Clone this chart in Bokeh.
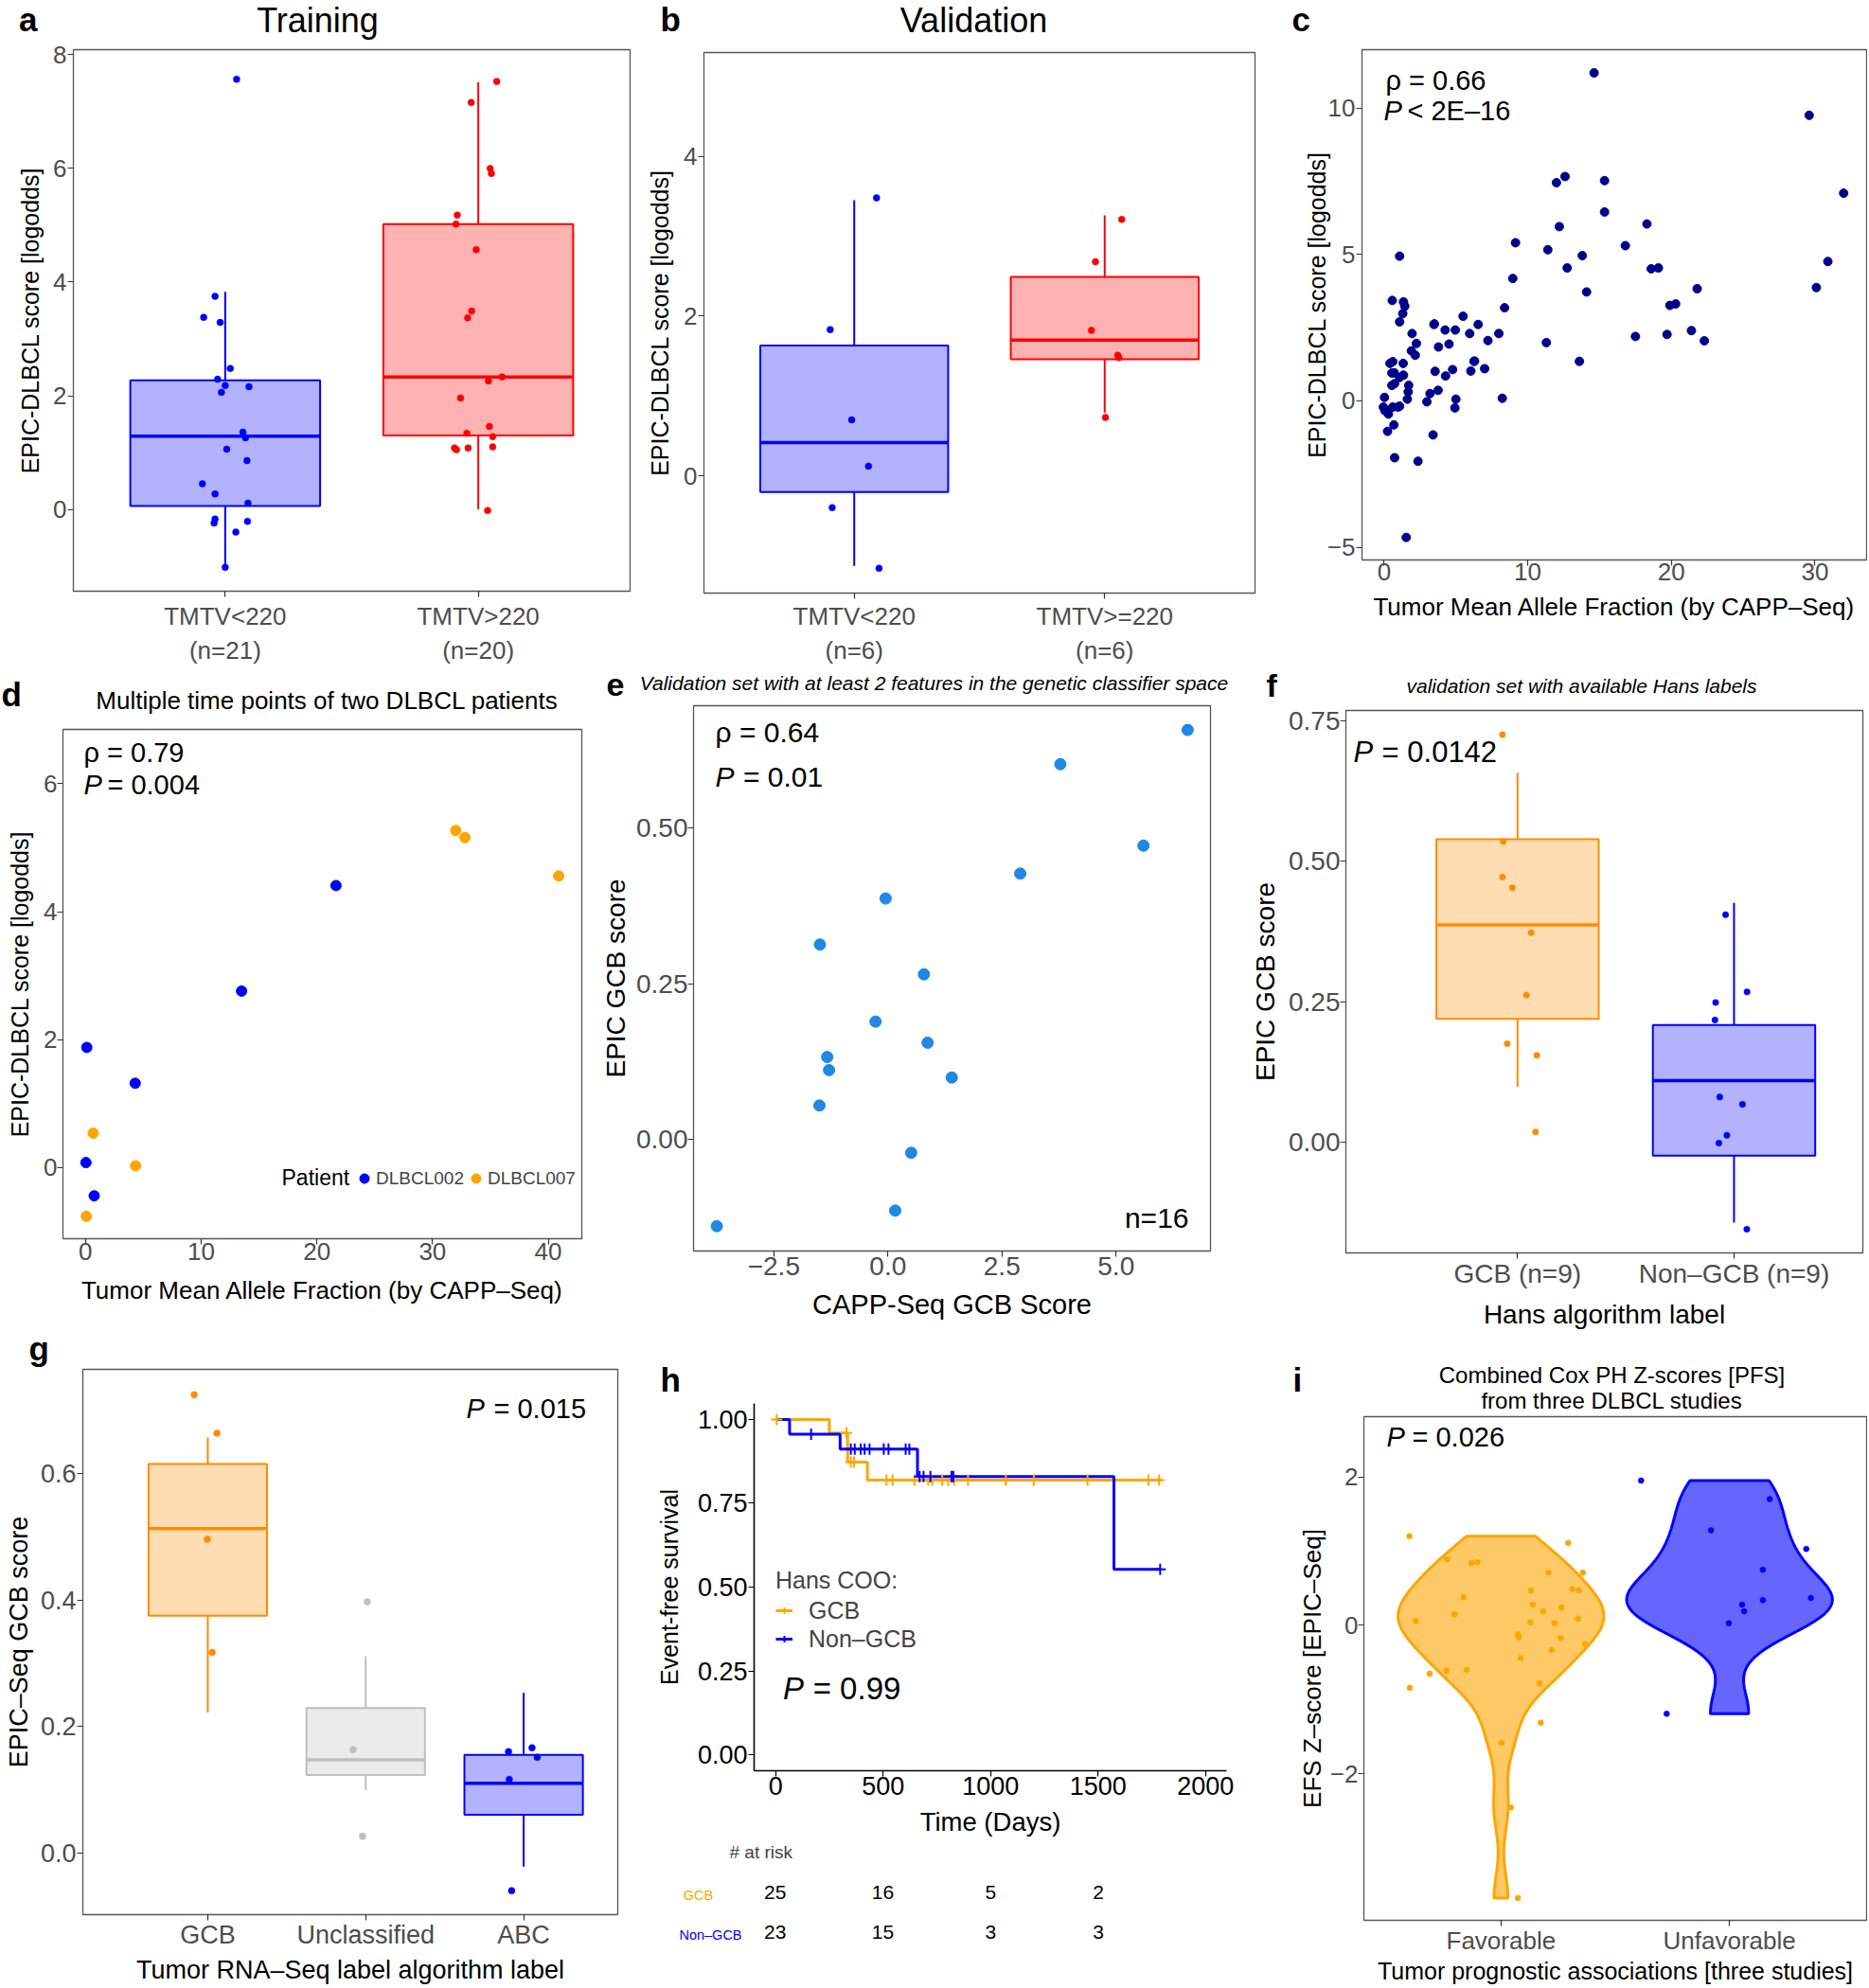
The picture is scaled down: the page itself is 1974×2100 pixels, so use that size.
import numpy as np
from bokeh.plotting import figure
from bokeh.models import Label, FixedTicker, Legend, LegendItem, Range1d, ColumnDataSource
from bokeh.layouts import row, column
from bokeh.embed import file_html
from bokeh.resources import INLINE

FONT = "Liberation Sans"
TXT_GREY = "#4D4D4D"
FRAME_COL = "#555555"
BLUE = "#0000FF"; RED = "#FF0000"; DORANGE = "#FF8C00"; ORANGE = "#FFA500"
GREY = "#BEBEBE"; NAVY = "#00008B"; DODGER = "#1E88E5"
BASE_SHIFT = 0.34  # text placed by baseline: compensate renderer offset (fraction of font size)
ROW1_END = 704

# ---------------- data ----------------
# (a) Training
A_LABELS = ["TMTV<220\n(n=21)", "TMTV>220\n(n=20)"]
A_YTICKS = [0, 2, 4, 6, 8]
A_LO = [-1.02, 0.00]; A_Q1 = [0.06, 1.30]; A_MED = [1.29, 2.33]; A_Q3 = [2.27, 5.02]; A_HI = [3.83, 7.52]
A_G1 = [7.57, 3.75, 3.38, 3.29, 2.48, 2.29, 2.18, 2.16, 2.06, 1.36, 1.26, 1.06, 0.86, 0.45, 0.27, 0.11, -0.17, -0.24, -0.21, -0.40, -1.02]
A_G1_JIT = [0.045, -0.040, -0.085, -0.020, 0.020, -0.030, 0.000, 0.094, -0.015, 0.070, 0.080, 0.006, 0.086, -0.090, -0.040, 0.090, -0.040, -0.044, 0.088, 0.042, 0.000]
A_G2 = [7.53, 7.16, 6.00, 5.91, 5.18, 5.02, 4.57, 3.49, 3.37, 2.33, 2.26, 1.96, 1.46, 1.34, 1.28, 1.08, 1.05, 1.08, 1.10, -0.02]
A_G2_JIT = [0.073, -0.028, 0.047, 0.052, -0.083, -0.088, -0.008, -0.026, -0.042, 0.094, 0.040, -0.070, 0.044, -0.045, 0.057, -0.094, -0.086, -0.040, 0.057, 0.037]

# (b) Validation
B_LABELS = ["TMTV<220\n(n=6)", "TMTV>=220\n(n=6)"]
B_YTICKS = [0, 2, 4]
B_LO = [-1.13, 0.79]; B_Q1 = [-0.205, 1.46]; B_MED = [0.415, 1.70]; B_Q3 = [1.63, 2.49]; B_HI = [3.45, 3.26]
B_G1 = [3.48, 1.83, 0.70, 0.12, -0.40, -1.16]
B_G1_JIT = [0.089, -0.096, -0.010, 0.057, -0.088, 0.099]
B_G2 = [3.21, 2.68, 1.82, 1.51, 1.48, 0.73]
B_G2_JIT = [0.068, -0.037, -0.053, 0.052, 0.057, 0.003]

# (c) EPIC-DLBCL vs mean allele fraction
C_X = [14.62, 29.6, 12.6, 12.0, 15.35, 32.0, 15.35, 12.2, 18.3, 9.15, 11.4, 16.8, 13.8, 1.08, 12.75,
       18.6, 19.1, 30.9, 8.96, 14.1, 21.8, 30.1, 0.57, 1.35, 1.44, 19.9, 20.3, 8.39, 1.30, 5.50,
       1.08, 3.47, 6.55, 4.25, 4.96, 1.95, 5.96, 7.99, 21.4, 19.7, 17.5, 7.23, 11.3, 22.3, 2.25,
       4.52, 3.79, 1.90, 2.17, 13.6, 0.41, 0.60, 1.33, 6.26, 7.0, 4.77, 3.55, 6.04, 0.54, 1.35,
       4.28, 1.08, 1.71, 0.54, 0.73, 1.68, 3.20, 3.76, 0.03, 1.62, 8.23, 5.0, 2.98, -0.05, 0.60,
       0.97, 1.08, 0.05, 0.30, 4.93, 0.68, 0.24, 3.41, 0.73, 2.36, 1.54, 0.70, 3.50, 6.30]
C_Y = [11.2, 9.75, 7.66, 7.45, 7.52, 7.09, 6.45, 5.95, 6.04, 5.40, 5.16, 5.30, 4.96, 4.94, 4.54,
       4.51, 4.54, 4.76, 4.18, 3.72, 3.83, 3.87, 3.43, 3.38, 3.23, 3.26, 3.31, 3.18, 2.98, 2.89,
       2.70, 2.61, 2.61, 2.42, 2.42, 2.30, 2.30, 2.30, 2.40, 2.27, 2.20, 2.06, 1.99, 2.05, 1.96,
       1.94, 1.84, 1.71, 1.56, 1.35, 1.28, 1.34, 1.28, 1.35, 1.10, 1.07, 1.01, 1.02, 0.95, 0.88,
       0.85, 0.80, 0.53, 0.53, 0.59, 0.31, 0.25, 0.36, 0.12, 0.06, 0.09, 0.06, -0.03, -0.21, -0.21,
       -0.21, -0.18, -0.33, -0.45, -0.24, -0.82, -1.04, -1.16, -1.94, -2.06, -4.66, 0.96, 2.63, 1.36]
C_XTICKS = [0, 10, 20, 30]
C_YTICKS = [-5, 0, 5, 10]
C_YLABELS = ["\u22125", "0", "5", "10"]

# (d) two patients
D_P1_X = [0.11, 0.04, 0.75, 4.29, 13.49, 21.65]
D_P1_Y = [1.88, 0.08, -0.44, 1.32, 2.76, 4.41]
D_P2_X = [0.67, 0.07, 4.33, 32.0, 32.8, 40.9]
D_P2_Y = [0.54, -0.76, 0.03, 5.27, 5.16, 4.56]
D_XTICKS = [0, 10, 20, 30, 40]
D_YTICKS = [0, 2, 4, 6]

# (e) CAPP-Seq GCB vs EPIC GCB
E_X = [6.57, 3.78, 5.60, 2.90, -0.05, -1.49, 0.79, -0.27, 0.87, -1.33, -1.29, 1.40, -1.50, 0.51, 0.16, -3.75]
E_Y = [0.658, 0.603, 0.472, 0.427, 0.387, 0.313, 0.265, 0.189, 0.155, 0.132, 0.111, 0.099, 0.054, -0.022, -0.115, -0.140]
E_XTICKS = [-2.5, 0.0, 2.5, 5.0]
E_XLABELS = ["\u22122.5", "0.0", "2.5", "5.0"]
E_YTICKS = [0.0, 0.25, 0.5]
E_YLABELS = ["0.00", "0.25", "0.50"]

# (f) Hans labels
F_LABELS = ["GCB (n=9)", "Non\u2013GCB (n=9)"]
F_LO = [0.099, -0.142]; F_Q1 = [0.220, -0.023]; F_MED = [0.387, 0.110]; F_Q3 = [0.539, 0.209]; F_HI = [0.657, 0.426]
F_G1 = [0.725, 0.535, 0.472, 0.453, 0.373, 0.262, 0.176, 0.155, 0.019]
F_G1_JIT = [-0.070, -0.066, -0.070, -0.024, 0.063, 0.041, -0.048, 0.089, 0.083]
F_G2 = [0.405, 0.268, 0.249, 0.218, 0.081, 0.068, 0.013, -0.001, -0.154]
F_G2_JIT = [-0.039, 0.060, -0.085, -0.088, -0.066, 0.039, -0.033, -0.070, 0.059]
F_YTICKS = [0.0, 0.25, 0.5, 0.75]
F_YLABELS = ["0.00", "0.25", "0.50", "0.75"]

# (g) RNA-Seq labels
G_LABELS = ["GCB", "Unclassified", "ABC"]
G_LO = [0.222, 0.099, -0.022]; G_Q1 = [0.375, 0.123, 0.060]; G_MED = [0.513, 0.147, 0.110]
G_Q3 = [0.615, 0.229, 0.155]; G_HI = [0.657, 0.311, 0.253]
G_G1 = [0.725, 0.664, 0.496, 0.317]; G_G1_JIT = [-0.086, 0.058, -0.003, 0.028]
G_G2 = [0.397, 0.163, 0.026]; G_G2_JIT = [0.010, -0.080, -0.020]
G_G3 = [0.160, 0.166, 0.151, 0.116, -0.060]; G_G3_JIT = [-0.096, 0.053, 0.086, -0.091, -0.076]
G_YTICKS = [0.0, 0.2, 0.4, 0.6]
G_YLABELS = ["0.0", "0.2", "0.4", "0.6"]

# (h) Kaplan-Meier
H_GCB_T = [0, 250, 335, 427, 1796]
H_GCB_S = [1.0, 0.96, 0.873, 0.819, 0.819]
H_NON_T = [0, 65, 300, 660, 1574, 1789]
H_NON_S = [1.0, 0.956, 0.912, 0.830, 0.553, 0.553]
H_GCB_CENS = [5, 330, 350, 365, 516, 544, 646, 710, 729, 775, 803, 830, 895, 1071, 1201, 1451, 1734, 1784]
H_NON_CENS = [165, 350, 368, 396, 414, 437, 503, 525, 605, 622, 670, 688, 720, 818, 827, 1789]
H_RISK_T = [0, 500, 1000, 1500]
H_RISK_GCB = [25, 16, 5, 2]
H_RISK_NON = [23, 15, 3, 3]
H_XTICKS = [0, 500, 1000, 1500, 2000]
H_YTICKS = [0.0, 0.25, 0.5, 0.75, 1.0]
H_YLABELS = ["0.00", "0.25", "0.50", "0.75", "1.00"]

# (i) violins
I_LABELS = ["Favorable", "Unfavorable"]
I_FAV = [1.20, 0.89, 0.84, 0.85, 1.11, 0.71, 0.71, 0.47, 0.49, 0.47, 0.38, 0.28, 0.24, 0.19, 0.15,
         0.06, 0.04, 0.03, 0.09, -0.12, -0.16, -0.17, -0.25, -0.33, -0.44, -0.61, -0.60, -0.65,
         -0.78, -0.84, -1.31, -1.58, -2.45, -3.67]
I_FAV_JIT = [-0.401, -0.236, -0.129, -0.103, 0.294, 0.208, 0.358, 0.131, 0.312, 0.341, -0.164, 0.139,
             0.265, 0.184, -0.203, -0.373, 0.129, 0.234, 0.337, 0.074, 0.077, 0.262, 0.368, 0.222,
             0.086, -0.238, -0.150, -0.312, 0.169, -0.399, 0.174, 0.002, 0.043, 0.074]
I_UNF = [1.95, 1.70, 1.28, 1.03, 0.75, 0.37, 0.34, 0.28, 0.19, 0.03, -1.19]
I_UNF_JIT = [-0.387, 0.176, -0.081, 0.336, 0.146, 0.356, 0.146, 0.055, 0.064, -0.003, -0.275]
I_YTICKS = [-2, 0, 2]
I_YLABELS = ["\u22122", "0", "2"]


# ---------------- helpers ----------------
def no_align(p):
    try:
        p.frame_align = False
    except Exception:
        pass


def make_panel(cell, frame, xr, yr, outline=True):
    cx0, cy0, cx1, cy1 = cell
    fl, ft, fr, fb = frame
    p = figure(width=int(round(cx1 - cx0)), height=int(round(cy1 - cy0)),
               x_range=Range1d(xr[0], xr[1]), y_range=Range1d(yr[0], yr[1]),
               output_backend="svg", toolbar_location=None,
               min_border_left=int(round(fl - cx0)), min_border_right=int(round(cx1 - fr)),
               min_border_top=int(round(ft - cy0)), min_border_bottom=int(round(cy1 - fb)))
    no_align(p)
    p.grid.visible = False
    p.outline_line_color = FRAME_COL if outline else None
    p.outline_line_width = 1.3
    p.background_fill_color = "white"
    p.border_fill_color = "white"
    return p


def make_strip(x0, y0, x1, y1, xr=None):
    """Text strip: its frame fills the whole canvas, coordinates are page pixels (y downwards)."""
    p = figure(width=int(round(x1 - x0)), height=int(round(y1 - y0)),
               x_range=Range1d(*(xr if xr else (x0, x1))), y_range=Range1d(y1, y0),
               output_backend="svg", toolbar_location=None,
               x_axis_location=None, y_axis_location=None,
               min_border=0, min_border_left=0, min_border_right=0, min_border_top=0, min_border_bottom=0)
    no_align(p)
    p.grid.visible = False
    p.outline_line_color = None
    p.background_fill_color = "white"
    p.border_fill_color = "white"
    return p


def stext(s, X, Y, text, size, align="left", style="normal", color="black"):
    s.add_layout(Label(x=X, y=Y - BASE_SHIFT * size, text=text, text_font=FONT,
                       text_font_size=f"{size}px", text_font_style=style, text_color=color,
                       text_align=align, text_baseline="alphabetic"))


def style_axis(ax, tick_px, title_px, s1, s2, tick_color=TXT_GREY, axis_line=None):
    ax.axis_line_color = axis_line
    ax.axis_line_width = 1.6
    ax.major_tick_line_color = "#333333" if axis_line is None else "black"
    ax.major_tick_line_width = 1.2
    ax.major_tick_out = 6
    ax.major_tick_in = 0
    ax.minor_tick_line_color = None
    ax.major_label_text_font = FONT
    ax.major_label_text_font_size = f"{tick_px}px"
    ax.major_label_text_color = tick_color
    ax.major_label_standoff = s1
    ax.axis_label_text_font = FONT
    ax.axis_label_text_font_size = f"{title_px}px"
    ax.axis_label_text_font_style = "normal"
    ax.axis_label_text_color = "black"
    ax.axis_label_standoff = s2


def set_ticks(ax, ticks, labels=None):
    ax.ticker = FixedTicker(ticks=list(ticks))
    if labels is not None:
        ax.major_label_overrides = {t: l for t, l in zip(ticks, labels)}


def lab(p, frame, X, Y, text, size, align="left", style="normal", color="black"):
    fl, ft, fr, fb = frame
    p.add_layout(Label(x=X - fl, y=fb - (Y - BASE_SHIFT * size), x_units="screen", y_units="screen",
                       text=text, text_font=FONT, text_font_size=f"{size}px", text_font_style=style,
                       text_color=color, text_align=align, text_baseline="alphabetic"))


def ptext(p, frame, X, Y, rest, size, gap):
    lab(p, frame, X, Y, "P", size, style="italic")
    lab(p, frame, X + gap * size, Y, rest, size)


def boxes(p, xs, lo, q1, med, q3, hi, colors, w=0.75):
    half = w / 2
    src = ColumnDataSource(dict(x=xs, left=[x - half for x in xs], right=[x + half for x in xs],
                                lo=lo, q1=q1, med=med, q3=q3, hi=hi, c=colors))
    p.segment(x0="x", y0="q3", x1="x", y1="hi", source=src, line_color="c", line_width=2)
    p.segment(x0="x", y0="lo", x1="x", y1="q1", source=src, line_color="c", line_width=2)
    p.quad(left="left", right="right", bottom="q1", top="q3", source=src,
           fill_color="c", fill_alpha=0.3, line_color="c", line_width=2)
    p.segment(x0="left", y0="med", x1="right", y1="med", source=src, line_color="c", line_width=3.5)


def jitter_pts(p, center, vals, jit, color, size):
    p.scatter(x=[center + j for j in jit], y=vals, size=size, fill_color=color,
              line_color=color, line_width=0.5)


def violin(p, center, vals, color, maxw=0.45, n=400):
    v = np.asarray(vals, dtype=float)
    sd = v.std(ddof=1)
    q75, q25 = np.percentile(v, [75, 25])
    bw = 0.9 * min(sd, (q75 - q25) / 1.34) * len(v) ** (-0.2)
    ys = np.linspace(v.min(), v.max(), n)
    dens = np.exp(-0.5 * ((ys[:, None] - v[None, :]) / bw) ** 2).sum(axis=1)
    w = dens / dens.max() * maxw
    xs = np.concatenate([center - w, (center + w)[::-1]])
    yy = np.concatenate([ys, ys[::-1]])
    p.patch(xs, yy, fill_color=color, fill_alpha=0.6, line_color=color, line_width=3)


# ================= ROW 1 (y 0..ROW1_END) =================
# (a)
sa = make_strip(0, 0, 680, 44)
stext(sa, 19.5, 32, "a", 35, style="bold")
stext(sa, 335, 33, "Training", 36, align="center")
fa = (77, 52, 665, 629)
pa = make_panel((0, 44, 680, ROW1_END), fa, (0.4, 2.6), (-1.44, 8.09))
boxes(pa, [1, 2], A_LO, A_Q1, A_MED, A_Q3, A_HI, [BLUE, RED])
jitter_pts(pa, 1, A_G1, A_G1_JIT, BLUE, 7)
jitter_pts(pa, 2, A_G2, A_G2_JIT, RED, 7)
set_ticks(pa.xaxis[0], [1, 2], A_LABELS)
set_ticks(pa.yaxis[0], A_YTICKS)
pa.yaxis[0].axis_label = "EPIC-DLBCL score [logodds]"
style_axis(pa.xaxis[0], 26, 25, 5, 0)
style_axis(pa.yaxis[0], 26, 25, 1, 7)

# (b)
sb = make_strip(680, 0, 1350, 47)
stext(sb, 697, 32, "b", 35, style="bold")
stext(sb, 1028, 33, "Validation", 36, align="center")
fb_ = (737, 55, 1325, 633)
pb = make_panel((680, 47, 1350, ROW1_END), fb_, (0.4, 2.6), (-1.47, 5.30))
boxes(pb, [1, 2], B_LO, B_Q1, B_MED, B_Q3, B_HI, [BLUE, RED])
jitter_pts(pb, 1, B_G1, B_G1_JIT, BLUE, 7)
jitter_pts(pb, 2, B_G2, B_G2_JIT, RED, 7)
set_ticks(pb.xaxis[0], [1, 2], B_LABELS)
set_ticks(pb.yaxis[0], B_YTICKS)
pb.yaxis[0].axis_label = "EPIC-DLBCL score [logodds]"
style_axis(pb.xaxis[0], 26, 25, 3, 0)
style_axis(pb.yaxis[0], 26, 25, 1, 8)

# (c)
sc = make_strip(1350, 0, 1972, 44)
stext(sc, 1364, 32, "c", 35, style="bold")
fc = (1438, 52, 1971, 591)
pc = make_panel((1350, 44, 1972, ROW1_END), fc, (-1.54, 33.6), (-5.43, 11.99))
pc.scatter(C_X, C_Y, size=9, fill_color=NAVY, line_color=NAVY)
set_ticks(pc.xaxis[0], C_XTICKS)
set_ticks(pc.yaxis[0], C_YTICKS, C_YLABELS)
pc.xaxis[0].axis_label = "Tumor Mean Allele Fraction (by CAPP\u2013Seq)"
pc.yaxis[0].axis_label = "EPIC-DLBCL score [logodds]"
style_axis(pc.xaxis[0], 26, 26, -3, 10)
style_axis(pc.yaxis[0], 26, 25, 1, -6)
lab(pc, fc, 1463, 94, "\u03c1 = 0.66", 29)
ptext(pc, fc, 1461, 126, "< 2E\u201316", 29, 0.86)

# ================= ROW 2 (y ROW1_END..1406) =================
# (d)
sd = make_strip(0, ROW1_END, 632, 756)
stext(sd, 1, 745, "d", 35, style="bold")
stext(sd, 345, 748, "Multiple time points of two DLBCL patients", 26, align="center")
fd = (66, 770.5, 614, 1308.5)
pd_ = make_panel((0, 756, 632, 1406), fd, (-1.95, 42.9), (-1.11, 6.85))
rd1 = pd_.scatter(D_P1_X, D_P1_Y, size=11, fill_color=BLUE, line_color=BLUE)
rd2 = pd_.scatter(D_P2_X, D_P2_Y, size=11, fill_color=ORANGE, line_color=ORANGE)
set_ticks(pd_.xaxis[0], D_XTICKS)
set_ticks(pd_.yaxis[0], D_YTICKS)
pd_.xaxis[0].axis_label = "Tumor Mean Allele Fraction (by CAPP\u2013Seq)"
pd_.yaxis[0].axis_label = "EPIC-DLBCL score [logodds]"
style_axis(pd_.xaxis[0], 26, 26, -2, 14)
style_axis(pd_.yaxis[0], 26, 25, 0, 8)
legd = Legend(items=[LegendItem(label="DLBCL002", renderers=[rd1]),
                     LegendItem(label="DLBCL007", renderers=[rd2])],
              orientation="horizontal", location=(306, 51),
              label_text_font=FONT, label_text_font_size="19px",
              glyph_width=25, glyph_height=25, label_height=25, label_standoff=-5, spacing=-3,
              padding=0, margin=0, border_line_color=None, background_fill_alpha=0)
pd_.add_layout(legd)
lab(pd_, fd, 88, 805, "\u03c1 = 0.79", 29)
ptext(pd_, fd, 88, 839, "= 0.004", 29, 0.86)
lab(pd_, fd, 297, 1252, "Patient", 23)

# (e)
se = make_strip(632, ROW1_END, 1318, 741)
stext(se, 640, 735, "e", 34, style="bold")
stext(se, 986, 728, "Validation set with at least 2 features in the genetic classifier space", 21,
      align="center", style="italic")
fe = (729, 744.6, 1277.5, 1321)
pe = make_panel((632, 741, 1318, 1406), fe, (-4.26, 7.07), (-0.180, 0.697))
pe.scatter(E_X, E_Y, size=12, fill_color=DODGER, line_color=DODGER)
set_ticks(pe.xaxis[0], E_XTICKS, E_XLABELS)
set_ticks(pe.yaxis[0], E_YTICKS, E_YLABELS)
pe.xaxis[0].axis_label = "CAPP-Seq GCB Score"
pe.yaxis[0].axis_label = "EPIC GCB score"
style_axis(pe.xaxis[0], 28, 29, 0, 12)
style_axis(pe.yaxis[0], 28, 28, 0, 3)
lab(pe, fe, 752, 783, "\u03c1 = 0.64", 30)
ptext(pe, fe, 752, 830, "= 0.01", 30, 0.98)
lab(pe, fe, 1252, 1296, "n=16", 30, align="right")

# (f)
sf = make_strip(1318, ROW1_END, 1972, 745)
stext(sf, 1337, 735, "f", 34, style="bold")
stext(sf, 1670, 731, "validation set with available Hans labels", 21, align="center", style="italic")
ff = (1419, 750, 1967, 1326)
pf = make_panel((1318, 745, 1972, 1406), ff, (0.207, 2.595), (-0.196, 0.768))
boxes(pf, [1, 2], F_LO, F_Q1, F_MED, F_Q3, F_HI, [DORANGE, BLUE])
jitter_pts(pf, 1, F_G1, F_G1_JIT, DORANGE, 6.5)
jitter_pts(pf, 2, F_G2, F_G2_JIT, BLUE, 6.5)
set_ticks(pf.xaxis[0], [1, 2], F_LABELS)
set_ticks(pf.yaxis[0], F_YTICKS, F_YLABELS)
pf.xaxis[0].axis_label = "Hans algorithm label"
pf.yaxis[0].axis_label = "EPIC GCB score"
style_axis(pf.xaxis[0], 28, 28, 0, 9)
style_axis(pf.yaxis[0], 28, 28, 0, 6)
ptext(pf, ff, 1427, 808, "= 0.0142", 31, 0.97)

# ================= ROW 3 (y 1406..2098) =================
# (g)
sg = make_strip(0, 1406, 680, 1444)
stext(sg, 30, 1436, "g", 35, style="bold")
fg = (87, 1446, 651.5, 2023.6)
pg = make_panel((0, 1444, 680, 2098), fg, (0.209, 3.596), (-0.098, 0.765))
boxes(pg, [1, 2, 3], G_LO, G_Q1, G_MED, G_Q3, G_HI, [DORANGE, GREY, BLUE])
jitter_pts(pg, 1, G_G1, G_G1_JIT, DORANGE, 7)
jitter_pts(pg, 2, G_G2, G_G2_JIT, GREY, 7)
jitter_pts(pg, 3, G_G3, G_G3_JIT, BLUE, 7)
set_ticks(pg.xaxis[0], [1, 2, 3], G_LABELS)
set_ticks(pg.yaxis[0], G_YTICKS, G_YLABELS)
pg.xaxis[0].axis_label = "Tumor RNA\u2013Seq label algorithm label"
pg.yaxis[0].axis_label = "EPIC\u2013Seq GCB score"
style_axis(pg.xaxis[0], 27, 27, 0, 4)
style_axis(pg.yaxis[0], 27, 27, 1, 5)
ptext(pg, fg, 492, 1499, "= 0.015", 29, 1.0)

# (h)
sh = make_strip(680, 1406, 1345, 1476)
stext(sh, 697, 1469, "h", 35, style="bold")
fh = (795.5, 1482, 1295.5, 1870)
HXR = (-100, 2098)
H_SPLIT = 1947
ph = make_panel((680, 1476, 1345, H_SPLIT), fh, HXR, (-0.048, 1.048), outline=False)
r_g = ph.step(H_GCB_T, H_GCB_S, mode="after", line_color=ORANGE, line_width=3)
r_n = ph.step(H_NON_T, H_NON_S, mode="after", line_color=BLUE, line_width=3)


def surv_at(times, T, S):
    idx = np.searchsorted(np.asarray(T), np.asarray(times), side="right") - 1
    return [S[i] for i in idx]


c_g = ph.scatter(H_GCB_CENS, surv_at(H_GCB_CENS, H_GCB_T, H_GCB_S), marker="cross", size=12,
                 line_color=ORANGE, line_width=2)
c_n = ph.scatter(H_NON_CENS, surv_at(H_NON_CENS, H_NON_T, H_NON_S), marker="cross", size=12,
                 line_color=BLUE, line_width=2)
set_ticks(ph.xaxis[0], H_XTICKS)
set_ticks(ph.yaxis[0], H_YTICKS, H_YLABELS)
ph.xaxis[0].axis_label = "Time (Days)"
ph.yaxis[0].axis_label = "Event-free survival"
style_axis(ph.xaxis[0], 27, 27.5, 0, 10, tick_color="black", axis_line="black")
style_axis(ph.yaxis[0], 27, 25, 1, 13, tick_color="black", axis_line="black")
legh = Legend(items=[LegendItem(label="GCB", renderers=[r_g, c_g]),
                     LegendItem(label="Non\u2013GCB", renderers=[r_n, c_n])],
              title="Hans COO:", location=(23, 124),
              title_text_font=FONT, title_text_font_size="25px", title_text_font_style="normal",
              label_text_font=FONT, label_text_font_size="25px",
              glyph_width=18, glyph_height=30, label_height=30, label_standoff=17, spacing=0,
              title_standoff=2, padding=0, margin=0, border_line_color=None, background_fill_alpha=0)
ph.add_layout(legh)
ptext(ph, fh, 826, 1794, "= 0.99", 33, 0.96)

# risk table under (h): same time scale as (h)
kx = (HXR[1] - HXR[0]) / (fh[2] - fh[0])
rxr = (HXR[0] - (fh[0] - 680) * kx, HXR[1] + (1345 - fh[2]) * kx)
rk = make_strip(680, H_SPLIT, 1345, 2098, xr=rxr)
rk.add_layout(Label(x=HXR[0] + (770 - fh[0]) * kx, y=1962 - BASE_SHIFT * 19, text="# at risk",
                    text_font=FONT, text_font_size="19px", text_align="left",
                    text_baseline="alphabetic"))
rk.add_layout(Label(x=HXR[0] + (737 - fh[0]) * kx, y=2006 - BASE_SHIFT * 14.5, text="GCB",
                    text_font=FONT, text_font_size="14.5px", text_align="center",
                    text_baseline="alphabetic", text_color=ORANGE))
rk.add_layout(Label(x=HXR[0] + (750 - fh[0]) * kx, y=2048 - BASE_SHIFT * 14.5, text="Non\u2013GCB",
                    text_font=FONT, text_font_size="14.5px", text_align="center",
                    text_baseline="alphabetic", text_color=BLUE))
rk.text(x=H_RISK_T, y=[2006 - BASE_SHIFT * 21] * len(H_RISK_T), text=[str(v) for v in H_RISK_GCB],
        text_font_size="21px", text_align="center", text_baseline="alphabetic",
        text_font={"value": FONT})
rk.text(x=H_RISK_T, y=[2048 - BASE_SHIFT * 21] * len(H_RISK_T), text=[str(v) for v in H_RISK_NON],
        text_font_size="21px", text_align="center", text_baseline="alphabetic",
        text_font={"value": FONT})

# (i)
si = make_strip(1345, 1406, 1972, 1494)
stext(si, 1365, 1469, "i", 35, style="bold")
stext(si, 1702, 1460, "Combined Cox PH Z-scores [PFS]", 24, align="center")
stext(si, 1702, 1487, "from three DLBCL studies", 24, align="center")
fi = (1440, 1496, 1971, 2033)
pi = make_panel((1345, 1494, 1972, 2098), fi, (0.4, 2.6), (-3.97, 2.81))
violin(pi, 1, I_FAV, ORANGE)
violin(pi, 2, I_UNF, BLUE)
jitter_pts(pi, 1, I_FAV, I_FAV_JIT, ORANGE, 6)
jitter_pts(pi, 2, I_UNF, I_UNF_JIT, BLUE, 6)
set_ticks(pi.xaxis[0], [1, 2], I_LABELS)
set_ticks(pi.yaxis[0], I_YTICKS, I_YLABELS)
pi.xaxis[0].axis_label = "Tumor prognostic associations [three studies]"
pi.yaxis[0].axis_label = "EFS Z\u2013score [EPIC\u2013Seq]"
style_axis(pi.xaxis[0], 26, 25, 0, 0)
style_axis(pi.yaxis[0], 26, 26, 0, 1)
ptext(pi, fi, 1464, 1532, "= 0.026", 29, 0.93)

layout = column(
    row(column(sa, pa), column(sb, pb), column(sc, pc)),
    row(column(sd, pd_), column(se, pe), column(sf, pf)),
    row(column(sg, pg), column(sh, ph, rk), column(si, pi)),
)
open("out.html", "w").write(file_html(layout, INLINE))
